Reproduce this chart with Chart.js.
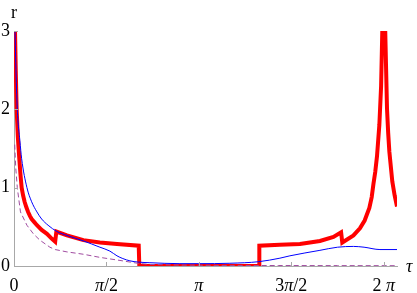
<!DOCTYPE html>
<html>
<head>
<meta charset="utf-8">
<script src="https://cdn.jsdelivr.net/npm/chart.js@4/dist/chart.umd.min.js"></script>
<style>
  html, body { margin: 0; padding: 0; background: #fff; }
  canvas { display: block; }
</style>
</head>
<body>
<canvas id="orbitChart" width="417" height="293"></canvas>
<script>
// tick positions and labels
const xTickValues = [0, Math.PI / 2, Math.PI, 3 * Math.PI / 2, 2 * Math.PI];
const xTickLabels = ["0", "π/2", "π", "3π/2", "2 π"];
const yTickValues = [0, 1, 2, 3];

// thick red curve
const redTau = [0.012, 0.03, 0.045, 0.065, 0.09, 0.11, 0.13, 0.155, 0.18, 0.21, 0.24, 0.27, 0.30,
  0.345, 0.39, 0.47, 0.56, 0.64, 0.70,
  0.72, 0.90, 1.18, 1.46, 1.75, 2.12, 2.13, 4.17, 4.17, 4.52, 4.86, 5.20, 5.43, 5.56,
  5.58, 5.77, 5.88, 5.96, 6.04, 6.08, 6.11, 6.14, 6.17, 6.21, 6.24, 6.26, 6.28, 6.31, 6.34,
  6.36, 6.38, 6.43, 6.47, 6.51];
const redR = [3.2, 2.5, 2.0, 1.65, 1.37, 1.17, 1.0, 0.9, 0.82, 0.75, 0.69, 0.64, 0.60,
  0.56, 0.52, 0.46, 0.41, 0.35, 0.31,
  0.44, 0.39, 0.33, 0.30, 0.28, 0.26, 0, 0, 0.26, 0.27, 0.28, 0.32, 0.37, 0.43,
  0.30, 0.39, 0.48, 0.58, 0.74, 0.88, 1.05, 1.20, 1.40, 1.80, 2.30, 3.0, 4.5, 3.0, 2.01,
  1.70, 1.46, 1.08, 0.90, 0.76];

// thin blue curve
const blueTau = [0.012, 0.03, 0.056, 0.10, 0.13, 0.22, 0.30, 0.39, 0.47, 0.58, 0.73, 0.90, 1.18,
  1.46, 1.63, 1.75, 1.85, 1.97, 2.11, 2.31, 2.82, 3.14, 3.67, 4.16, 4.52, 4.69, 5.20, 5.50,
  5.77, 5.95, 6.22, 6.51];
const blueR = [3.2, 2.6, 2.0, 1.6, 1.37, 1.0, 0.82, 0.69, 0.60, 0.52, 0.44, 0.39, 0.32,
  0.24, 0.19, 0.13, 0.095, 0.066, 0.05, 0.042, 0.03, 0.03, 0.035, 0.055, 0.10, 0.13, 0.20, 0.24,
  0.25, 0.24, 0.21, 0.21];

// dashed purple curve
const purpleTau = [0.012, 0.03, 0.056, 0.11, 0.22, 0.33, 0.44, 0.61, 0.70, 0.90, 1.18, 1.46,
  1.75, 2.11, 2.31, 2.8, 3.5, 4.5, 5.5, 6.51];
const purpleR = [1.55, 1.25, 1.0, 0.69, 0.52, 0.41, 0.33, 0.24, 0.21, 0.18, 0.15, 0.11,
  0.077, 0.034, 0.02, 0.012, 0.008, 0.006, 0.005, 0.004];

const toPoints = (xs, ys) => xs.map((x, i) => ({ x: x, y: ys[i] }));

const axisColor = "#a8a8a8";
const serif = "'Liberation Serif', 'DejaVu Serif', serif";
const fontUp = "18px " + serif;
const fontIt = "italic 18px " + serif;

// draw a label with the π glyphs in italics, centred on cx
function drawMixed(ctx, text, cx, baseline) {
  const parts = text.split("").map((ch) => ({ ch: ch, font: ch === "π" ? fontIt : fontUp }));
  let total = 0;
  parts.forEach((p) => { ctx.font = p.font; p.w = ctx.measureText(p.ch).width; total += p.w; });
  let x = cx - total / 2;
  ctx.textAlign = "left";
  parts.forEach((p) => { ctx.font = p.font; ctx.fillText(p.ch, x, baseline); x += p.w; });
}

// inward tick marks, x labels and axis names, Mathematica style
const axisDecor = {
  id: "axisDecor",
  afterDraw(chart) {
    const ctx = chart.ctx;
    const xs = chart.scales.x;
    const ys = chart.scales.y;
    const area = chart.chartArea;
    ctx.save();
    ctx.strokeStyle = axisColor;
    ctx.lineWidth = 1;
    ctx.beginPath();
    xTickValues.slice(1).forEach((v) => {
      const px = Math.round(xs.getPixelForValue(v)) + 0.5;
      ctx.moveTo(px, area.bottom);
      ctx.lineTo(px, area.bottom - 4);
    });
    yTickValues.slice(1).forEach((v) => {
      const py = Math.round(ys.getPixelForValue(v)) + 0.5;
      ctx.moveTo(area.left, py);
      ctx.lineTo(area.left + 4, py);
    });
    ctx.stroke();

    ctx.fillStyle = "#000";
    ctx.textBaseline = "alphabetic";
    xTickValues.forEach((v, i) => {
      drawMixed(ctx, xTickLabels[i], xs.getPixelForValue(v), area.bottom + 25);
    });
    ctx.font = fontUp;
    ctx.textAlign = "center";
    ctx.fillText("r", area.left, 18);
    ctx.font = fontIt;
    ctx.textAlign = "left";
    ctx.fillText("τ", area.right + 9, area.bottom + 6);
    ctx.restore();
  }
};

new Chart(document.getElementById("orbitChart"), {
  type: "line",
  data: {
    datasets: [
      {
        label: "purple",
        data: toPoints(purpleTau, purpleR),
        borderColor: "#a04ca0",
        borderWidth: 1,
        borderDash: [5, 3],
        pointRadius: 0,
      },
      {
        label: "blue",
        data: toPoints(blueTau, blueR),
        borderColor: "#0000ff",
        borderWidth: 1,
        pointRadius: 0,
        cubicInterpolationMode: "monotone",
      },
      {
        label: "red",
        data: toPoints(redTau, redR),
        borderColor: "#ff0000",
        borderWidth: 4,
        pointRadius: 0,
        borderJoinStyle: "miter",
      },
    ],
  },
  options: {
    responsive: false,
    animation: false,
    devicePixelRatio: 1,
    layout: { padding: { top: 31, right: 20, left: 0, bottom: 0 } },
    plugins: {
      legend: { display: false },
      tooltip: { enabled: false },
    },
    scales: {
      x: {
        type: "linear",
        min: 0,
        max: 6.51,
        afterBuildTicks: (scale) => {
          scale.ticks = xTickValues.map((v) => ({ value: v }));
        },
        afterFit: (scale) => { scale.height = 27; },
        grid: { display: false, drawTicks: false },
        border: { display: true, color: axisColor, width: 1 },
        ticks: { display: false },
      },
      y: {
        type: "linear",
        min: 0,
        max: 3,
        afterBuildTicks: (scale) => {
          scale.ticks = yTickValues.map((v) => ({ value: v }));
        },
        afterFit: (scale) => { scale.width = 14; },
        grid: { display: false, drawTicks: false },
        border: { display: true, color: axisColor, width: 1 },
        ticks: {
          padding: 4,
          color: "#000",
          font: { family: serif, size: 18 },
        },
      },
    },
  },
  plugins: [axisDecor],
});
</script>
</body>
</html>
